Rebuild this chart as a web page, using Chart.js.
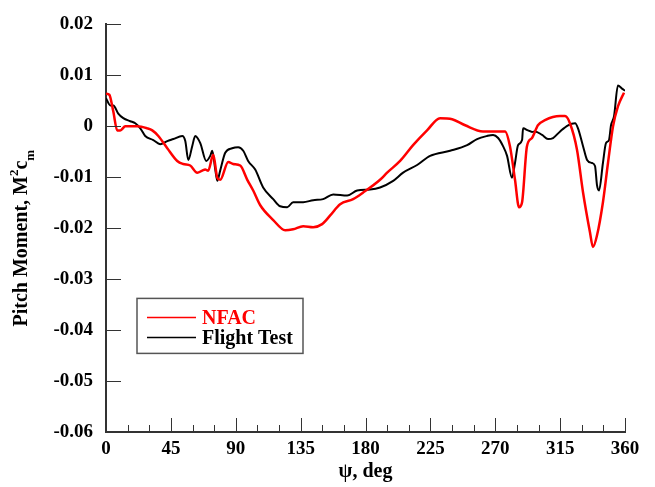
<!DOCTYPE html>
<html>
<head>
<meta charset="utf-8">
<script src="https://cdn.jsdelivr.net/npm/chart.js@4/dist/chart.umd.min.js"></script>
<style>
    html, body { margin: 0; padding: 0; background: #fff; }
    #wrap { width: 655px; height: 487px; }
</style>
</head>
<body>
<div id="wrap"><canvas id="canvasPitch" width="655" height="487"></canvas></div>
<script>
const FONT_FAMILY = '"Liberation Serif", "Times New Roman", serif';

// NFAC prediction
const nfacAngle = [0, 2.3, 5, 7.8, 9.9, 13.4, 16.8, 21.7, 28.6, 32.1, 36.3, 42.5, 49.4, 53.6, 58.4,
    63.3, 66.8, 68.8, 70.9, 74.4, 77.2, 79.2, 84.8, 88.2, 93.1, 98.0, 102.1, 107.0, 116.0, 124.3,
    129.8, 136.8, 143.7, 149.9, 155.5, 162.4, 171.4, 178.4, 190.1, 195.0, 204.0, 213.0, 222.7, 231.7, 240.1,
    249.1, 261.5, 271.2, 276.8, 280.2, 283.7, 286.5, 288.6, 292.0, 295.5, 299.6, 304.5, 314.9, 318.4, 321.8,
    326.7, 330.9, 335.7, 337.8, 340.6, 344.7, 348.2, 351.7, 355.1, 359.3];
const nfacMoment = [0.0064, 0.0062, 0.0030, -0.0008, -0.0008, 0, 0, 0, -0.0004, -0.0008,
    -0.0019, -0.0043, -0.0068, -0.0074, -0.0077, -0.0091, -0.0087, -0.0085, -0.0087, -0.0056,
    -0.0101, -0.0105, -0.0070, -0.0074, -0.0077, -0.0105, -0.0126, -0.0155, -0.0184, -0.0204,
    -0.0202, -0.0196, -0.0198, -0.0192, -0.0175, -0.0153, -0.0143, -0.0130, -0.0105, -0.0091,
    -0.0068, -0.0037, -0.0008, 0.0016, 0.0014, 0.0002, -0.0010, -0.0010, -0.0010, -0.0039,
    -0.0105, -0.0159, -0.0149, -0.0039, -0.0023, 0.0002, 0.0012, 0.0020, 0.0020, 0.0006,
    -0.0046, -0.0130, -0.0208, -0.0237, -0.0214, -0.0149, -0.0072, 0, 0.0039, 0.0066];

// Flight test
const flightAngle = [0, 3.0, 5.1, 8.5, 12.0, 16.8, 20.3, 23.8, 27.2, 32.8, 37.6, 42.5, 46.7, 52.9, 55.0,
    57.1, 59.8, 61.9, 65.4, 69.5, 72.3, 73.7, 75.8, 77.2, 79.2, 82.7, 87.5, 91.7, 95.2, 98.6,
    103.5, 109.0, 116.0, 120.8, 125.7, 129.8, 136.8, 143.7, 150.6, 157.6, 167.3, 174.2, 183.2, 190.1, 199.2,
    206.1, 215.8, 224.8, 238.7, 250.5, 257.4, 264.3, 268.5, 272.0, 275.4, 278.2, 281.6, 283.7, 285.8, 288.6,
    289.3, 292.7, 295.5, 297.6, 302.5, 306.6, 310.1, 315.0, 320.5, 325.4, 327.4, 330.9, 333.7, 337.1, 339.2,
    340.6, 342.0, 344.7, 346.8, 348.9, 350.3, 352.4, 355.1, 357.9, 360];
const flightMoment = [0.0055, 0.0041, 0.0041, 0.0025, 0.0016, 0.0010, 0.0006, -0.0004, -0.0019, -0.0027,
    -0.0035, -0.0029, -0.0025, -0.0019, -0.0029, -0.0066, -0.0039, -0.0019, -0.0033, -0.0068,
    -0.0058, -0.0048, -0.0085, -0.0107, -0.0087, -0.0052, -0.0043, -0.0041, -0.0048, -0.0068,
    -0.0085, -0.0120, -0.0143, -0.0157, -0.0159, -0.0149, -0.0149, -0.0145, -0.0143, -0.0134,
    -0.0136, -0.0126, -0.0124, -0.0120, -0.0107, -0.0091, -0.0076, -0.0058, -0.0048, -0.0037,
    -0.0025, -0.0019, -0.0017, -0.0023, -0.0039, -0.0058, -0.0101, -0.0072, -0.0037, -0.0027,
    -0.0004, -0.0008, -0.0011, -0.0010, -0.0017, -0.0025, -0.0023, -0.0010, 0.0002, 0.0006,
    -0.0004, -0.0039, -0.0066, -0.0072, -0.0078, -0.0116, -0.0126, -0.0072, -0.0033, -0.0027,
    0.0002, 0.0020, 0.0080, 0.0074, 0.0070];

const seriesLabels = ['NFAC', 'Flight Test'];
const seriesColors = ['#ff0000', '#000000'];
const xTickLabels = [0, 45, 90, 135, 180, 225, 270, 315, 360];
const yTickLabels = ['0.02', '0.01', '0', '-0.01', '-0.02', '-0.03', '-0.04', '-0.05', '-0.06'];

function toPoints(xs, ys) {
    return xs.map((x, i) => ({ x, y: ys[i] }));
}

// inward ticks: major on every label, minor every 15 deg on x
const inwardTicks = {
    id: 'inwardTicks',
    afterDraw(chart) {
        const { ctx, chartArea, scales: { x, y } } = chart;
        ctx.save();
        ctx.strokeStyle = '#333';
        ctx.lineWidth = 1;
        ctx.beginPath();
        y.ticks.forEach(t => {
            const py = Math.round(y.getPixelForValue(t.value)) + 0.5;
            ctx.moveTo(chartArea.left, py);
            ctx.lineTo(chartArea.left + 15, py);
        });
        x.ticks.forEach(t => {
            const px = Math.round(x.getPixelForValue(t.value)) + 0.5;
            const len = xTickLabels.includes(Math.round(t.value)) ? 14 : 7;
            ctx.moveTo(px, chartArea.bottom);
            ctx.lineTo(px, chartArea.bottom - len);
        });
        ctx.stroke();
        ctx.restore();
    }
};

// y title with superscript 2 and subscript m
const yTitle = {
    id: 'yTitle',
    afterDraw(chart) {
        const { ctx, chartArea } = chart;
        const big = 'bold 20px ' + FONT_FAMILY;
        const small = 'bold 13px ' + FONT_FAMILY;
        const parts = [
            { t: 'Pitch Moment, M', f: big, dy: 0 },
            { t: '2', f: small, dy: -9 },
            { t: 'c', f: big, dy: 0 },
            { t: 'm', f: small, dy: 7 }
        ];
        ctx.save();
        let total = 0;
        parts.forEach(p => { ctx.font = p.f; p.w = ctx.measureText(p.t).width; total += p.w; });
        ctx.translate(27, (chartArea.top + chartArea.bottom) / 2 + 10);
        ctx.rotate(-Math.PI / 2);
        ctx.fillStyle = '#000';
        ctx.textBaseline = 'alphabetic';
        let cx = -total / 2;
        parts.forEach(p => {
            ctx.font = p.f;
            ctx.fillText(p.t, cx, p.dy);
            cx += p.w;
        });
        ctx.restore();
    }
};

// boxed legend inside the plot
const boxLegend = {
    id: 'boxLegend',
    afterDraw(chart) {
        const { ctx, chartArea } = chart;
        const left = chartArea.left + 31;
        const top = chartArea.top + 274;
        ctx.save();
        ctx.strokeStyle = '#555';
        ctx.lineWidth = 1.5;
        ctx.strokeRect(left, top, 166, 55);
        ctx.font = 'bold 20px ' + FONT_FAMILY;
        ctx.textBaseline = 'middle';
        chart.data.datasets.forEach((ds, i) => {
            const ly = top + 19 + i * 20;
            ctx.strokeStyle = ds.borderColor;
            ctx.lineWidth = 1.5;
            ctx.beginPath();
            ctx.moveTo(left + 10, ly);
            ctx.lineTo(left + 59, ly);
            ctx.stroke();
            ctx.fillStyle = ds.borderColor;
            ctx.fillText(ds.label, left + 65, ly + 1);
        });
        ctx.restore();
    }
};

const ctx = document.getElementById('canvasPitch');
new Chart(ctx, {
    type: 'line',
    data: {
        datasets: [
            {
                label: seriesLabels[0],
                data: toPoints(nfacAngle, nfacMoment),
                borderColor: seriesColors[0],
                borderWidth: 2.5,
                pointRadius: 0,
                cubicInterpolationMode: 'monotone'
            },
            {
                label: seriesLabels[1],
                data: toPoints(flightAngle, flightMoment),
                borderColor: seriesColors[1],
                borderWidth: 2,
                pointRadius: 0,
                cubicInterpolationMode: 'monotone'
            }
        ]
    },
    options: {
        responsive: false,
        animation: false,
        layout: { padding: { left: 0, top: 20, right: 30, bottom: 0 } },
        plugins: { legend: { display: false }, tooltip: { enabled: false } },
        scales: {
            x: {
                type: 'linear',
                min: 0,
                max: 360,
                afterFit: s => { s.height = 55; },
                grid: { display: false, drawTicks: false },
                border: { display: true, color: '#333', width: 2 },
                ticks: {
                    stepSize: 15,
                    autoSkip: false,
                    maxRotation: 0,
                    padding: 6,
                    color: '#000',
                    font: { family: FONT_FAMILY, size: 19, weight: 'bold' },
                    callback: v => xTickLabels.includes(v) ? String(v) : ''
                },
                title: {
                    display: true,
                    text: 'ψ, deg',
                    color: '#000',
                    font: { family: FONT_FAMILY, size: 20, weight: 'bold' },
                    padding: { top: 0, bottom: 3 }
                }
            },
            y: {
                min: -0.06,
                max: 0.02,
                afterFit: s => { s.width = 106; },
                grid: { display: false, drawTicks: false },
                border: { display: true, color: '#333', width: 2 },
                ticks: {
                    stepSize: 0.01,
                    padding: 13,
                    color: '#000',
                    font: { family: FONT_FAMILY, size: 19, weight: 'bold' },
                    callback: v => yTickLabels[Math.round((0.02 - v) / 0.01)]
                }
            }
        }
    },
    plugins: [inwardTicks, yTitle, boxLegend]
});
</script>
</body>
</html>
